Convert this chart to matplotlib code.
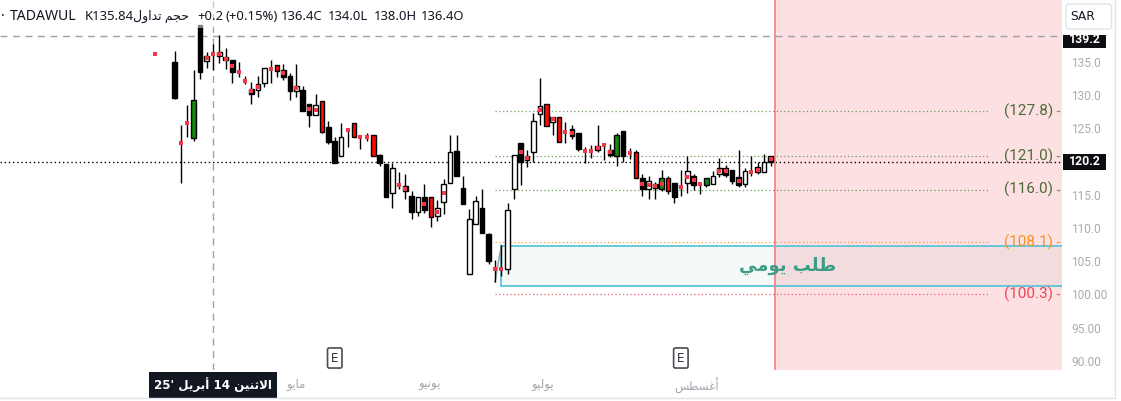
import matplotlib
matplotlib.use("Agg")
import matplotlib.pyplot as plt
import matplotlib.transforms as mtrans
from matplotlib.patches import Rectangle, FancyBboxPatch
from matplotlib.lines import Line2D

nan = float("nan")

# ---------------------------------------------------------------- data
# daily bars (index = trading day slot); nan = no bar
opens = [136.4, nan, nan, 135.2, 123.1, 126.0, 123.8, 140.8, 135.3, 136.4,
         136.2, 135.5, 135.5, 133.7, 132.3, 131.2, 131.0, 132.1, 134.1, 134.7,
         134.0, 133.1, 130.9, 131.0, 128.9, 127.3, 129.3, 125.4, 123.3, 121.0,
         125.0, 126.0, 123.9, 123.9, 124.2, 121.2, 119.9, 115.45, 116.75, 116.55,
         115.0, 112.7, 114.85, 114.85, 112.1, 114.2, 117.0, 121.8, 116.25, 103.25,
         110.9, 113.2, 109.3, 104.0, 104.0, 104.0, 116.15, 123.0, 121.0, 121.6,
         127.35, 128.9, 126.25, 126.9, 124.75, 125.1, 124.5, 121.8, 121.75, 121.9,
         122.75, 122.0, 121.0, 124.8, 121.5, 121.6, 117.7, 116.15, 116.8, 116.1,
         117.7, 117.0, 116.35, 117.0, 118.0, 116.8, 116.65, 116.8, 118.3, 119.25,
         119.0, 117.85, 116.9, 118.6, 119.4, 118.7, 121.05]
highs = [136.5, nan, nan, 136.9, 125.7, 128.75, 134.0, 140.8, 136.7, 138.0,
         139.3, 137.3, 135.5, 135.2, 133.1, 132.2, 133.1, 134.3, 135.5, 134.7,
         134.9, 133.5, 134.9, 131.6, 128.9, 130.4, 129.3, 126.3, 124.0, 126.0,
         125.2, 126.0, 124.3, 124.5, 124.2, 121.4, 119.9, 120.0, 118.65, 118.4,
         115.8, 114.85, 116.85, 114.85, 114.45, 117.6, 124.2, 124.2, 118.05, 113.1,
         115.05, 116.1, 109.45, 105.4, 107.65, 113.95, 121.2, 123.0, 122.0, 127.6,
         132.8, 128.9, 126.95, 126.9, 126.2, 125.7, 124.5, 122.4, 122.7, 125.7,
         123.0, 122.9, 124.6, 124.8, 122.2, 122.0, 118.35, 118.0, 117.2, 119.0,
         118.0, 117.0, 119.0, 121.1, 118.4, 117.0, 117.7, 118.8, 120.75, 119.65,
         119.0, 122.0, 119.2, 121.1, 120.2, 121.4, 121.05]
lows = [136.3, nan, nan, 129.6, 117.05, 124.0, 123.4, 132.6, 134.3, 134.0,
        135.0, 134.1, 132.0, 133.0, 131.9, 128.95, 130.0, 131.4, 132.0, 132.9,
        132.5, 129.5, 130.0, 127.9, 125.5, 127.3, 124.55, 122.8, 120.0, 121.0,
        122.4, 123.9, 122.1, 123.3, 121.1, 119.5, 114.9, 113.3, 116.1, 114.6,
        111.6, 112.0, 112.5, 110.3, 111.3, 112.3, 117.0, 118.1, 113.9, 103.25,
        110.9, 109.4, 104.75, 102.1, 103.05, 103.25, 114.6, 116.65, 119.4, 120.2,
        125.7, 125.6, 124.3, 123.2, 123.1, 123.7, 121.8, 120.05, 120.8, 121.6,
        120.4, 120.9, 119.6, 120.2, 120.6, 117.7, 115.1, 114.65, 114.6, 115.8,
        115.4, 114.0, 115.0, 115.5, 116.0, 115.4, 116.4, 116.8, 117.9, 117.85,
        116.85, 116.45, 116.45, 118.1, 118.4, 118.7, 119.6]
closes = [136.4, nan, nan, 129.85, 123.1, 126.0, 129.45, 133.7, 136.1, 136.4,
          136.7, 136.0, 133.7, 133.7, 132.3, 130.4, 131.9, 134.3, 134.1, 133.9,
          133.0, 130.9, 131.6, 127.9, 127.3, 128.7, 124.7, 123.2, 120.0, 123.9,
          125.0, 123.9, 123.9, 123.9, 121.1, 120.0, 114.9, 119.2, 116.75, 115.75,
          112.7, 114.85, 113.0, 111.9, 113.2, 116.85, 121.7, 118.1, 113.9, 111.6,
          114.3, 109.4, 105.3, 104.0, 104.0, 113.0, 121.2, 120.1, 120.4, 126.3,
          128.55, 125.6, 126.95, 123.2, 124.75, 124.1, 122.1, 121.8, 121.75, 122.6,
          122.75, 121.2, 124.2, 121.0, 121.5, 117.7, 116.15, 117.25, 116.2, 117.7,
          115.85, 114.95, 116.35, 118.8, 116.75, 116.8, 117.7, 118.05, 119.2, 118.25,
          117.35, 116.65, 118.8, 118.6, 118.6, 120.15, 120.2]
# body colouring: k black, w hollow, r red, g green, n none (dot only)
body_kind = ["n", "", "", "k", "n", "n", "g", "k", "w", "n",
             "w", "w", "k", "n", "n", "k", "w", "w", "n", "r",
             "k", "k", "w", "k", "k", "w", "r", "k", "k", "w",
             "n", "r", "n", "n", "r", "k", "k", "w", "n", "k",
             "k", "w", "k", "r", "w", "w", "w", "k", "k", "w",
             "w", "k", "k", "n", "n", "w", "w", "k", "k", "w",
             "w", "r", "w", "r", "n", "k", "k", "n", "n", "w",
             "n", "k", "g", "k", "n", "r", "k", "w", "k", "g",
             "r", "k", "n", "w", "k", "n", "g", "w", "w", "k",
             "k", "k", "w", "n", "k", "w", "k"]
# small red squares drawn on some bars
dots = [136.4, nan, nan, nan, 123.1, 126.0, nan, nan, 135.8, 136.4,
        136.45, 135.75, 134.6, 133.7, 132.3, 130.8, 131.45, nan, 134.1, nan,
        133.5, nan, 131.25, nan, 128.1, 128.0, nan, nan, nan, nan,
        125.0, nan, 123.9, 123.9, nan, nan, nan, nan, 116.75, 116.15,
        nan, nan, 113.9, nan, 112.65, 115.5, nan, nan, nan, nan,
        nan, nan, nan, 104.0, 104.0, nan, nan, 121.6, 120.7, nan,
        128.0, nan, 126.6, nan, 124.75, 124.6, nan, 121.8, 121.75, 122.25,
        122.75, 121.6, nan, nan, 121.5, nan, 116.9, 116.7, 116.5, 116.9,
        nan, nan, 116.35, 117.9, 117.4, 116.8, nan, nan, 118.75, 118.75,
        nan, 117.25, nan, 118.6, 119.0, nan, 120.6]

levels = [127.8, 121.0, 116.0, 108.1, 100.3]
level_labels = ["(127.8)", "(121.0)", "(116.0)", "(108.1)", "(100.3)"]
zone_low, zone_high = 101.5, 107.5
zone_label = "طلب يومي"
last_price = 120.2
cursor_bar, cursor_price = 9, 139.2
cursor_date = "الاثنين 14 أبريل '25"
earnings_bars = [28, 82]
forecast_start = 96.7
months = ["مايو", "يونيو", "يوليو", "أغسطس"]
month_pos = [22.0, 42.9, 60.5, 84.5]
y_ticks = [90, 95, 100, 105, 110, 115, 125, 130, 135]
y_tick_labels = ["90.00", "95.00", "100.00", "105.0", "110.0", "115.0",
                 "125.0", "130.0", "135.0"]
header_items = [("·", 1, 10), ("TADAWUL", 10, 10.1), ("K135.84", 85, 9.4),
                ("حجم تداول", 133, 9.0), ("+0.2", 197, 9.4),
                ("(+0.15%)", 225, 9.4), ("136.4C", 281, 9.4),
                ("134.0L", 328, 9.4), ("138.0H", 374, 9.4), ("136.4O", 421, 9.4)]

# ------------------------------------------------ Arabic glyph shaping
_FORMS = {  # isolated, final, initial, medial
    "ا": ("\uFE8D", "\uFE8E", None, None),
    "أ": ("\uFE83", "\uFE84", None, None),
    "ب": ("\uFE8F", "\uFE90", "\uFE91", "\uFE92"),
    "ت": ("\uFE95", "\uFE96", "\uFE97", "\uFE98"),
    "ث": ("\uFE99", "\uFE9A", "\uFE9B", "\uFE9C"),
    "ج": ("\uFE9D", "\uFE9E", "\uFE9F", "\uFEA0"),
    "ح": ("\uFEA1", "\uFEA2", "\uFEA3", "\uFEA4"),
    "د": ("\uFEA9", "\uFEAA", None, None),
    "ر": ("\uFEAD", "\uFEAE", None, None),
    "س": ("\uFEB1", "\uFEB2", "\uFEB3", "\uFEB4"),
    "ط": ("\uFEC1", "\uFEC2", "\uFEC3", "\uFEC4"),
    "غ": ("\uFECD", "\uFECE", "\uFECF", "\uFED0"),
    "ل": ("\uFEDD", "\uFEDE", "\uFEDF", "\uFEE0"),
    "م": ("\uFEE1", "\uFEE2", "\uFEE3", "\uFEE4"),
    "ن": ("\uFEE5", "\uFEE6", "\uFEE7", "\uFEE8"),
    "و": ("\uFEED", "\uFEEE", None, None),
    "ي": ("\uFEF1", "\uFEF2", "\uFEF3", "\uFEF4"),
}
_LAM_ALEF = {"ا": ("\uFEFB", "\uFEFC"), "أ": ("\uFEF7", "\uFEF8")}


def _shape_word(word):
    units, k = [], 0
    while k < len(word):
        if word[k] == "ل" and k + 1 < len(word) and word[k + 1] in _LAM_ALEF:
            units.append(("LA", word[k + 1]))
            k += 2
        else:
            units.append((word[k], None))
            k += 1

    def joins_forward(u):
        return u[0] != "LA" and u[0] in _FORMS and _FORMS[u[0]][2] is not None

    def arabic(u):
        return u[0] == "LA" or u[0] in _FORMS

    out = []
    for n, (ch, alef) in enumerate(units):
        prev_j = n > 0 and joins_forward(units[n - 1])
        if ch == "LA":
            iso, fin = _LAM_ALEF[alef]
            out.append(fin if prev_j else iso)
            continue
        if ch not in _FORMS:
            out.append(ch)
            continue
        f = _FORMS[ch]
        next_j = f[2] is not None and n + 1 < len(units) and arabic(units[n + 1])
        if prev_j and next_j:
            out.append(f[3])
        elif prev_j:
            out.append(f[1])
        elif next_j:
            out.append(f[2])
        else:
            out.append(f[0])
    return "".join(reversed(out))


def rtl(text):
    parts = []
    for w in text.split(" "):
        if any(c in _FORMS for c in w):
            parts.append(_shape_word(w))
        elif w[:1] in "'\"":
            parts.append(w[1:] + w[0])
        else:
            parts.append(w)
    return " ".join(reversed(parts))


# ---------------------------------------------------------------- figure
W, H = 1121, 401
plt.rcParams["font.family"] = ["Noto Sans", "DejaVu Sans"]
fig = plt.figure(figsize=(W / 100, H / 100), dpi=100)
fig.patch.set_facecolor("white")

ax = fig.add_axes([0, 31 / H, 1062 / W, 370 / H])
x_lo, x_hi = -24.23, 141.47
y_lo, y_hi = 88.84, 144.56
ax.set_xlim(x_lo, x_hi)
ax.set_ylim(y_lo, y_hi)
for s in ax.spines.values():
    s.set_visible(False)
ax.set_yticks([])

# month labels under the bars
ax.set_xticks(month_pos, [rtl(m) for m in months], family="DejaVu Sans")
ax.tick_params(axis="x", length=0, pad=6, labelsize=8.5, labelcolor="#a3a6ad")

# shaded area after the last bar
ax.axvspan(forecast_start, x_hi, color="#fde0e2", zorder=0, lw=0)
ax.axvline(forecast_start, color="#f28d96", lw=1.4, zorder=6)

# demand zone
ax.add_patch(Rectangle((54, zone_low), x_hi - 54 + 1, zone_high - zone_low,
                       facecolor=(0.37, 0.66, 0.63, 0.065), edgecolor="#4cc2d8",
                       lw=1.2, zorder=1))
ax.text(98.7, (zone_low + zone_high) / 2, rtl(zone_label), ha="center",
        va="center", fontsize=13, fontweight="bold", color="#3c9c86",
        family="DejaVu Sans", zorder=7)

# horizontal levels
line_cols = ["#6f9a60", "#6f9a60", "#6f9a60", "#ff9a3c", "#f45d6d"]
text_cols = ["#4b6b38", "#4b6b38", "#4b6b38", "#f7911f", "#ef4356"]
for lv, lab, lc, tc in zip(levels, level_labels, line_cols, text_cols):
    ax.plot([53, 130.2], [lv, lv], color=lc, lw=0.9, ls=(0, (1, 2)), zorder=2)
    ax.text(136.2, lv, lab, ha="center", va="center", fontsize=11,
            color=tc, family="Roboto", zorder=7)
    ax.plot([140.7, 141.0], [lv, lv], color=lc, lw=0.9, zorder=7)

# last price line and crosshair
ax.axhline(last_price, color="black", lw=1, ls=(0, (1, 2)), zorder=5)
ax.axhline(cursor_price, color="#9ea1a8", lw=1, ls=(0, (5, 4)), zorder=5)
ax.axvline(cursor_bar, color="#9ea1a8", lw=1, ls=(0, (5, 4)), zorder=5)

# candles
bw = 0.72
for i in range(len(opens)):
    o, h, l, c, kind = opens[i], highs[i], lows[i], closes[i], body_kind[i]
    if o != o:
        continue
    ax.plot([i, i], [l, h], color="black", lw=1, zorder=8, solid_capstyle="butt")
    if kind == "n":
        continue
    fc = {"k": "black", "w": "white", "r": "#ff0a0a", "g": "#128a12"}[kind]
    lo_b, hi_b = min(o, c), max(o, c)
    ax.add_patch(Rectangle((i - bw / 2, lo_b), bw, max(hi_b - lo_b, 0.25),
                           facecolor=fc, edgecolor="black", lw=1.0, zorder=9))
xs = [i for i, d in enumerate(dots) if d == d]
ax.plot(xs, [dots[i] for i in xs], ls="none", marker="s", ms=3.2,
        color="#f23645", mew=0, zorder=10)

# hand-drawn connector into the zone
ax.plot([53, 54], [lows[53], highs[54]], color="#a3a5ad", lw=1.2, zorder=7)

# earnings markers
tr_xa = mtrans.blended_transform_factory(ax.transData, ax.transAxes)
for b in earnings_bars:
    ax.text(b, 12 / 370, "E", transform=tr_xa, ha="center", va="center",
            fontsize=8.5, color="#2a2e39", family="DejaVu Sans", zorder=11,
            bbox=dict(boxstyle="round,pad=0.3,rounding_size=0.15", fc="white",
                      ec="#4a4d55", lw=1.2))

# date tag under the crosshair
ax.text(cursor_bar, -15 / 370, rtl(cursor_date), transform=tr_xa, ha="center",
        va="center", fontsize=8.6, color="white", fontweight="bold",
        family="DejaVu Sans", clip_on=False, zorder=12,
        bbox=dict(boxstyle="square,pad=0.45", fc="#131722", ec="none"))

# header veil and legend line
ax.add_patch(Rectangle((0, 1 - 28 / 370), 465 / 1062, 28 / 370,
                       transform=ax.transAxes, fc="white", alpha=0.5,
                       lw=0, zorder=13))
for txt, xp, fs in header_items:
    shown = rtl(txt) if any(c in _FORMS for c in txt) else txt
    fig.text(xp / W, 1 - 16.5 / H, shown, ha="left", va="center",
             fontsize=fs, color="#131722", zorder=20)

# ------------------------------------------------------ price scale
axr = fig.add_axes([1062 / W, 31 / H, 59 / W, 370 / H])
axr.set_xlim(0, 59)
axr.set_ylim(y_lo, y_hi)
axr.axis("off")
for v, lab in zip(y_ticks, y_tick_labels):
    axr.text(9, v, lab, ha="left", va="center", fontsize=8.6,
             color="#a9acb3", family="Roboto")
unit = (y_hi - y_lo) / 370
# (price, vertical offset of its tag in pixels)
for v, off in ((last_price, 0.0), (cursor_price, -4.5)):
    yc = v + off * unit
    axr.add_patch(Rectangle((1, yc - 8.2 * unit), 43, 16.4 * unit,
                            fc="#0c0e12", ec="none", zorder=3))
    axr.text(22.5, yc + 0.5 * unit, f"{v:.1f}", ha="center", va="center",
             fontsize=8.8, color="white", fontweight="bold", family="Roboto",
             zorder=4)
axr.add_patch(Rectangle((0, y_hi - 34.5 * unit), 59, 34.5 * unit, fc="white",
                        ec="none", zorder=5))
axr.add_patch(FancyBboxPatch((4, y_hi - 29 * unit), 45.5, 25 * unit,
                             boxstyle="round,pad=0,rounding_size=3",
                             mutation_aspect=unit, fc="white",
                             ec="#e0e3eb", lw=1, zorder=6))
axr.text(8, y_hi - 16.5 * unit, "SAR", ha="left", va="center", fontsize=8.8,
         color="#131722", family="DejaVu Sans", zorder=7)

# container frame
fig.add_artist(Line2D([1115 / W, 1115 / W], [3 / H, 1], color="#e0e3eb", lw=1))
fig.add_artist(Line2D([0, 1115 / W], [3 / H, 3 / H], color="#e0e3eb", lw=1))

fig.savefig("out.png", dpi=100)
